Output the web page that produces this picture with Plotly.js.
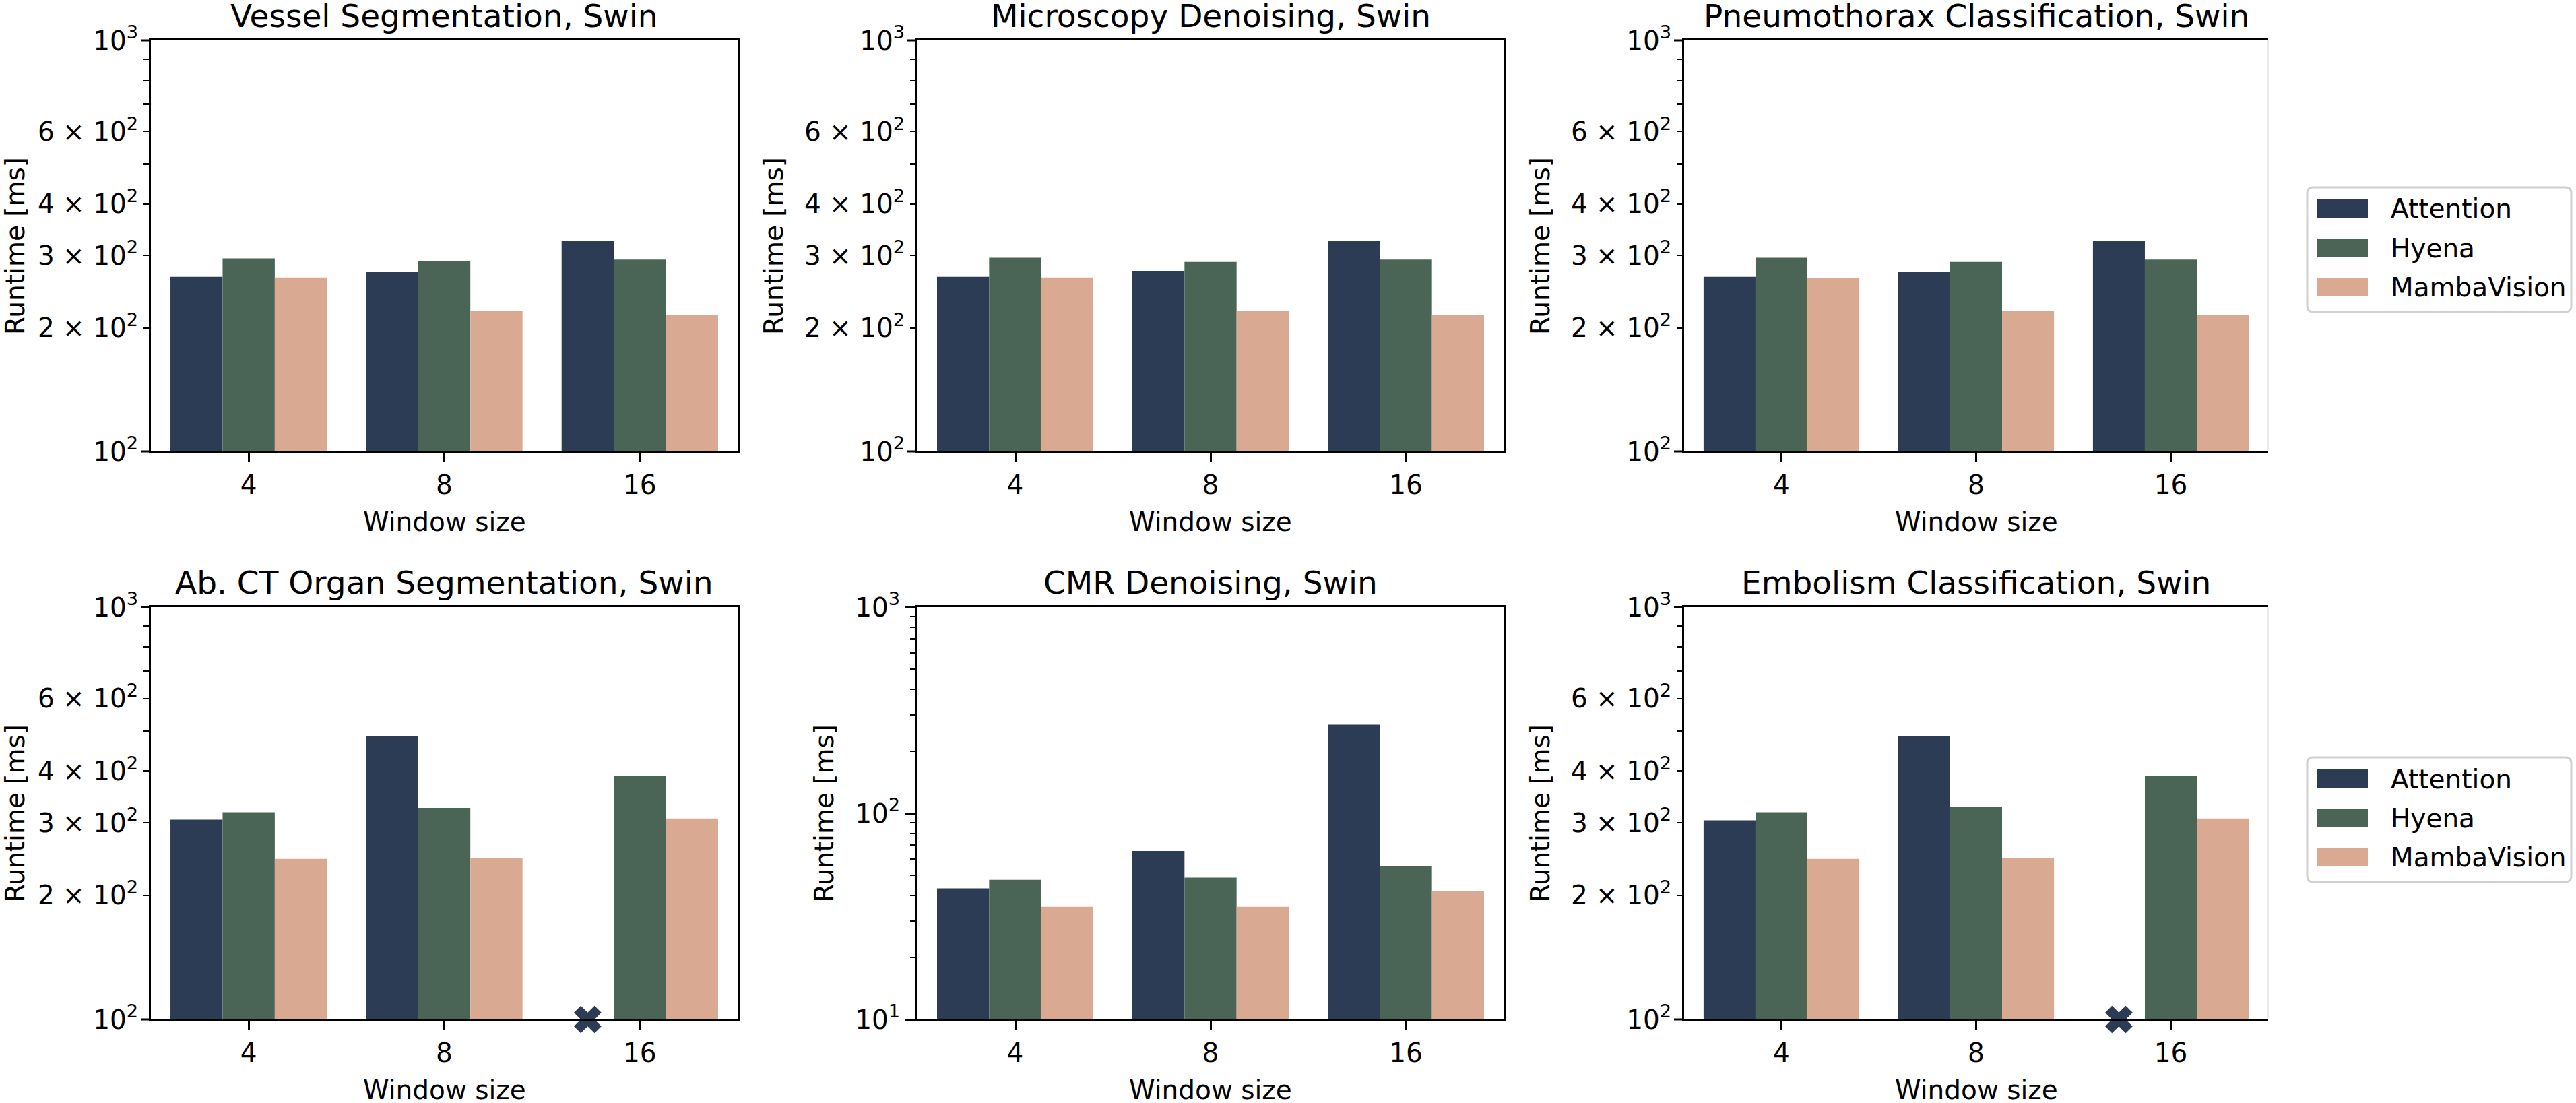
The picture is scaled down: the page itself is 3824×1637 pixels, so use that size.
<!DOCTYPE html>
<html><head><meta charset="utf-8">
<script src="https://cdn.plot.ly/plotly-3.0.1.min.js"></script>
<style>html,body{margin:0;padding:0;background:#fff}</style>
</head><body><div id="chart" style="width:3824px;height:1637px"></div>
<script>
// ---------- data ----------
const categories = ['4', '8', '16'];
const seriesNames = ['Attention', 'Hyena', 'MambaVision'];
const seriesColors = ['#2c3c55', '#4a6456', '#d9a992'];
const panelTitles = [
  'Vessel Segmentation, Swin', 'Microscopy Denoising, Swin', 'Pneumothorax Classification, Swin',
  'Ab. CT Organ Segmentation, Swin', 'CMR Denoising, Swin', 'Embolism Classification, Swin'
];
const xTitle = 'Window size';
const yTitle = 'Runtime [ms]';

const vesselAttention = [266, 274, 326];
const vesselHyena = [295, 290, 293];
const vesselMamba = [265, 219.5, 215];

const microscopyAttention = [266, 275, 326];
const microscopyHyena = [296, 289, 293];
const microscopyMamba = [265, 219.5, 215];

const pneumoAttention = [266, 273, 326];
const pneumoHyena = [296, 289, 293];
const pneumoMamba = [264, 219.5, 215];

const abctAttention = [305, 486, null];
const abctHyena = [318, 326, 389];
const abctMamba = [245, 246, 307];

const cmrAttention = [43.2, 65.6, 269];
const cmrHyena = [47.6, 48.7, 55.4];
const cmrMamba = [35.2, 35.2, 41.8];

const embolismAttention = [304, 487, null];
const embolismHyena = [318, 327, 390];
const embolismMamba = [245, 246, 307];

const panelData = [
  [vesselAttention, vesselHyena, vesselMamba],
  [microscopyAttention, microscopyHyena, microscopyMamba],
  [pneumoAttention, pneumoHyena, pneumoMamba],
  [abctAttention, abctHyena, abctMamba],
  [cmrAttention, cmrHyena, cmrMamba],
  [embolismAttention, embolismHyena, embolismMamba]
];

// y tick labels
const tickVals300 = [100, 200, 300, 400, 600, 1000];
const tickText300 = ['10<sup>2</sup>', '2 × 10<sup>2</sup>', '3 × 10<sup>2</sup>', '4 × 10<sup>2</sup>', '6 × 10<sup>2</sup>', '10<sup>3</sup>'];
const minorVals300 = [500, 700, 800, 900];
const tickValsCmr = [10, 100, 1000];
const tickTextCmr = ['10<sup>1</sup>', '10<sup>2</sup>', '10<sup>3</sup>'];
const minorValsCmr = [20, 30, 40, 50, 60, 70, 80, 90, 200, 300, 400, 500, 600, 700, 800, 900];

// ---------- layout geometry ----------
const W = 3824, H = 1637;
const FONT = 'DejaVu Sans, Verdana, sans-serif';
const colPx = [[224, 1095], [1362, 2232], [2500, 3367]];
const rowPx = [[60, 670], [901, 1513]];
const BARGAP = 0.2;

const traces = [];
const layout = {
  width: W, height: H,
  margin: {l: 0, r: 0, t: 0, b: 0},
  paper_bgcolor: '#fff', plot_bgcolor: '#fff',
  barmode: 'group', bargap: BARGAP, bargroupgap: 0,
  showlegend: false,
  font: {family: FONT, size: 39, color: '#000'},
  annotations: [], shapes: []
};

for (let p = 0; p < 6; p++) {
  const sfx = p === 0 ? '' : String(p + 1);
  const col = p % 3, row = Math.floor(p / 3);
  const isCmr = p === 4;
  const yr = isCmr ? [1, 3] : [2, 3];

  panelData[p].forEach((vals, s) => {
    traces.push({
      type: 'bar', name: seriesNames[s],
      x: categories.map((c, i) => i), y: vals,
      xaxis: 'x' + sfx, yaxis: 'y' + sfx,
      marker: {color: seriesColors[s], line: {width: 0}},
      showlegend: false, hoverinfo: 'skip'
    });
    // missing value marker at baseline
    const missX = [], missY = [];
    vals.forEach((v, i) => {
      if (v === null) {
        const w = (1 - BARGAP) / seriesNames.length;
        missX.push(i - (1 - BARGAP) / 2 + w * (s + 0.5));
        missY.push(Math.pow(10, yr[0]));
      }
    });
    if (missX.length) {
      traces.push({
        type: 'scatter', mode: 'markers', x: missX, y: missY,
        xaxis: 'x' + sfx, yaxis: 'y' + sfx, cliponaxis: false,
        marker: {symbol: 'x', size: 36, color: seriesColors[s], line: {width: 0}},
        showlegend: false, hoverinfo: 'skip'
      });
    }
  });

  const xd = [colPx[col][0] / W, colPx[col][1] / W];
  const yd = [1 - rowPx[row][1] / H, 1 - rowPx[row][0] / H];
  const mirrorY = col < 2;

  layout['xaxis' + sfx] = {
    domain: xd, anchor: 'y' + sfx, range: [-0.5, 2.5],
    tickmode: 'array', tickvals: categories.map((c, i) => i), ticktext: categories,
    ticks: 'outside', ticklen: 13, tickwidth: 3, tickcolor: '#000',
    showline: true, linewidth: 3, linecolor: '#000', mirror: true,
    showgrid: false, zeroline: false, fixedrange: true,
    tickfont: {size: 39, family: FONT}
  };
  layout['yaxis' + sfx] = {
    domain: yd, anchor: 'x' + sfx, type: 'log', range: yr,
    tickmode: 'array',
    tickvals: isCmr ? tickValsCmr : tickVals300,
    ticktext: isCmr ? tickTextCmr : tickText300,
    ticks: 'outside', ticklen: isCmr ? 15 : 8, tickwidth: isCmr ? 3 : 2.3, tickcolor: '#000',
    minor: {tickmode: 'array', tickvals: isCmr ? minorValsCmr : minorVals300,
            ticks: 'outside', ticklen: 8, tickwidth: 2.3, tickcolor: '#000', showgrid: false},
    showline: true, linewidth: 3, linecolor: '#000', mirror: mirrorY,
    showgrid: false, zeroline: false, fixedrange: true,
    tickfont: {size: 39, family: FONT},
    title: {text: yTitle, font: {size: 39, family: FONT}, standoff: 20}
  };

  // longer major ticks at decades (for panels where labels are minor ticks)
  if (!isCmr) {
    [100, 1000].forEach(v => {
      const f = (Math.log10(v) - yr[0]) / (yr[1] - yr[0]);
      layout.shapes.push({
        type: 'line', xref: 'x' + sfx + ' domain', yref: 'y' + sfx + ' domain',
        xsizemode: 'pixel', xanchor: 0, x0: -15, x1: 0, y0: f, y1: f,
        line: {color: '#000', width: 3}
      });
    });
  }
  if (!mirrorY) {
    layout.shapes.push({
      type: 'line', xref: 'x' + sfx + ' domain', yref: 'y' + sfx + ' domain',
      x0: 1, x1: 1, y0: 0, y1: 1, line: {color: '#e4e4e4', width: 1.5}
    });
  }

  // panel title
  layout.annotations.push({
    text: panelTitles[p], xref: 'x' + sfx + ' domain', yref: 'y' + sfx + ' domain',
    x: 0.5, y: 1, xanchor: 'center', yanchor: 'bottom', yshift: 7, showarrow: false,
    font: {size: 47, family: FONT, color: '#000'}
  });
  // x-axis title
  layout.annotations.push({
    text: xTitle, xref: 'x' + sfx + ' domain', yref: 'y' + sfx + ' domain',
    x: 0.5, y: 0, xanchor: 'center', yanchor: 'top', yshift: -80, showarrow: false,
    font: {size: 39, family: FONT, color: '#000'}
  });
}

// ---------- legends (one per row) ----------
const legendTops = [278, 1124];
const LX0 = 3425, LX1 = 3817, LH = 185, R = 9;
const px = v => v / W, py = v => 1 - v / H;
legendTops.forEach(top => {
  const x0 = LX0, x1 = LX1, y0 = top, y1 = top + LH;
  const path = `M${px(x0 + R)},${py(y0)} L${px(x1 - R)},${py(y0)} Q${px(x1)},${py(y0)} ${px(x1)},${py(y0 + R)} ` +
    `L${px(x1)},${py(y1 - R)} Q${px(x1)},${py(y1)} ${px(x1 - R)},${py(y1)} L${px(x0 + R)},${py(y1)} ` +
    `Q${px(x0)},${py(y1)} ${px(x0)},${py(y1 - R)} L${px(x0)},${py(y0 + R)} Q${px(x0)},${py(y0)} ${px(x0 + R)},${py(y0)} Z`;
  layout.shapes.push({type: 'path', xref: 'paper', yref: 'paper', path: path,
    line: {color: '#d0d0d0', width: 3}, fillcolor: 'rgba(255,255,255,0.8)'});
  seriesNames.forEach((name, i) => {
    const cy = top + 32 + i * 58;
    layout.shapes.push({type: 'rect', xref: 'paper', yref: 'paper',
      x0: px(3440), x1: px(3515), y0: py(cy - 14), y1: py(cy + 14),
      line: {width: 0}, fillcolor: seriesColors[i]});
    layout.annotations.push({text: name, xref: 'paper', yref: 'paper',
      x: px(3547), y: py(cy), xanchor: 'left', yanchor: 'middle', showarrow: false,
      font: {size: 39, family: FONT, color: '#000'}});
  });
});

Plotly.newPlot('chart', traces, layout, {staticPlot: true, displayModeBar: false});
</script></body></html>
